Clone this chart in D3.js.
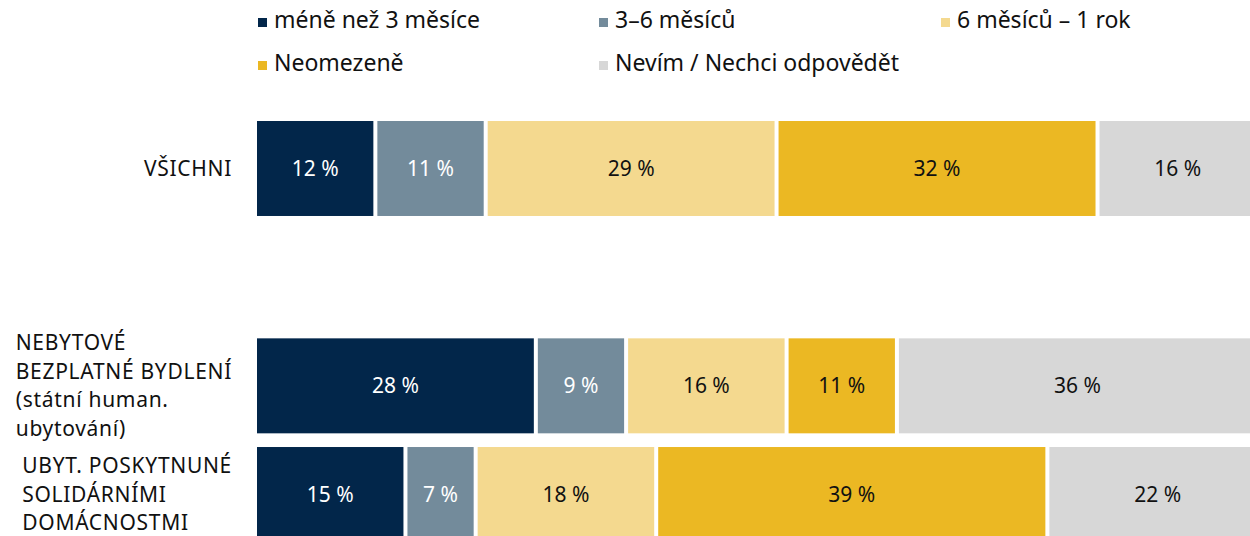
<!DOCTYPE html>
<html>
<head>
<meta charset="utf-8">
<script src="https://cdn.jsdelivr.net/npm/d3@7"></script>
<style>
  body { margin: 0; background: #fff; }
  svg { display: block; font-family: "Noto Sans", sans-serif; }
</style>
</head>
<body>
<div id="chart"></div>
<script>
let width = 1250;
let height = 536;

// data
let series = ["méně než 3 měsíce", "3–6 měsíců", "6 měsíců – 1 rok", "Neomezeně", "Nevím / Nechci odpovědět"];
let colors = ["#02264a", "#738b9b", "#f4d98f", "#ebb823", "#d7d7d7"];
let textColors = ["#fff", "#fff", "#111", "#111", "#111"];
let rowKeys = ["all", "gap", "state", "solid"];
let rowLabels = [
    ["VŠICHNI"],
    [],
    ["NEBYTOVÉ", "BEZPLATNÉ BYDLENÍ", "(státní human.", "ubytování)"],
    ["UBYT. POSKYTNUNÉ", "SOLIDÁRNÍMI", "DOMÁCNOSTMI"]
];
let valuesAll = [12, 11, 29, 32, 16];
let valuesState = [28, 9, 16, 11, 36];
let valuesSolid = [15, 7, 18, 39, 22];

let rows = [
    {key: "all", values: valuesAll},
    {key: "state", values: valuesState},
    {key: "solid", values: valuesSolid}
];

let svg = d3.select("#chart").append("svg")
    .attr("width", width)
    .attr("height", height);

let x = d3.scaleLinear()
    .domain([0, 100])
    .range([255, 1258]);

let y = d3.scaleBand()
    .domain(rowKeys)
    .range([121, 542])
    .paddingInner(0.126)
    .paddingOuter(0);

// legend
let legendX = [258, 599, 941];
series.forEach((s, i) => {
    let col = i % 3;
    let row = Math.floor(i / 3);
    let g = svg.append("g")
        .attr("transform", "translate(" + legendX[col] + "," + (row * 43) + ")");
    g.append("rect")
        .attr("x", 0)
        .attr("y", 18)
        .attr("width", 9)
        .attr("height", 9)
        .attr("fill", colors[i]);
    g.append("text")
        .attr("x", 16)
        .attr("y", 28)
        .attr("font-size", 23)
        .attr("fill", "#111")
        .text(s);
});

// bars
rows.forEach(r => {
    let stacked = [];
    let acc = 0;
    r.values.forEach((v, i) => {
        stacked.push({start: acc, end: acc + v, value: v, i: i});
        acc += v;
    });

    let g = svg.append("g");
    g.selectAll("rect")
        .data(stacked)
        .join("rect")
        .attr("x", d => x(d.start) + 2)
        .attr("y", y(r.key))
        .attr("width", d => x(d.end) - x(d.start) - 4)
        .attr("height", y.bandwidth())
        .attr("fill", d => colors[d.i]);

    g.selectAll("text")
        .data(stacked)
        .join("text")
        .attr("x", d => (x(d.start) + x(d.end)) / 2)
        .attr("y", y(r.key) + y.bandwidth() / 2)
        .attr("dy", "0.35em")
        .attr("text-anchor", "middle")
        .attr("font-size", 21)
        .attr("fill", d => textColors[d.i])
        .text(d => d.value + " %");
});

// category labels: left aligned block, right edge at 232
rowKeys.forEach((k, idx) => {
    let lines = rowLabels[idx];
    if (lines.length === 0) return;
    let lh = 28.6;
    let cy = y(k) + y.bandwidth() / 2;
    let t = svg.append("text")
        .attr("font-size", 21)
        .attr("letter-spacing", 0.7)
        .attr("fill", "#111");
    lines.forEach((l, j) => {
        t.append("tspan")
            .attr("x", 0)
            .attr("y", cy + (j - (lines.length - 1) / 2) * lh)
            .attr("dy", "0.35em")
            .text(l);
    });
    let w = t.node().getBBox().width;
    t.attr("transform", "translate(" + (232 - w) + ",0)");
});
</script>
</body>
</html>
